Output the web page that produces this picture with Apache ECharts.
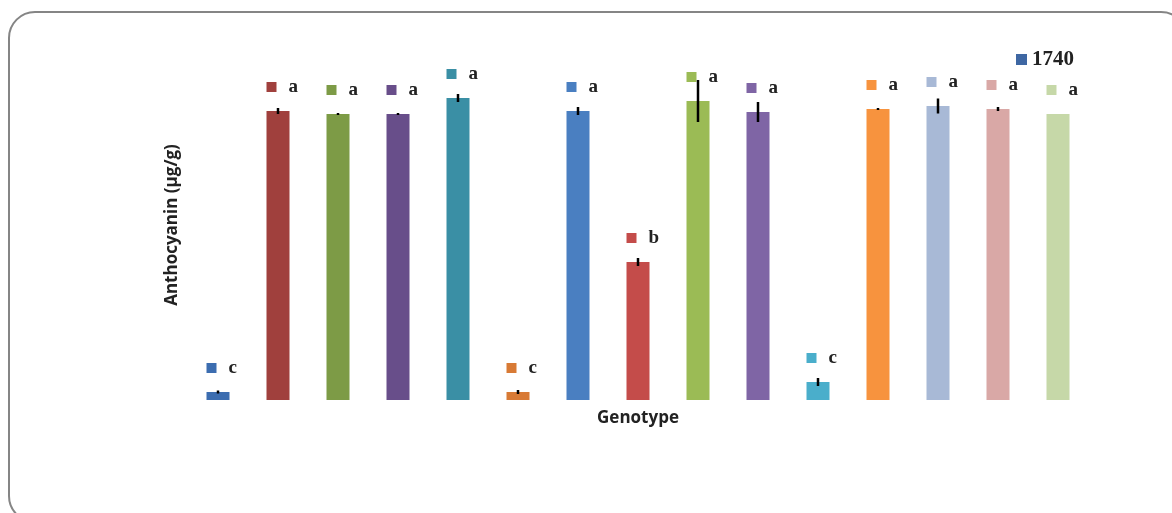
<!DOCTYPE html>
<html>
<head>
<meta charset="utf-8">
<script src="https://cdn.jsdelivr.net/npm/echarts@6/dist/echarts.min.js"></script>
<style>
  html, body { margin: 0; padding: 0; background: #fff; }
  #chart { width: 1172px; height: 513px; }
</style>
</head>
<body>
<div id="chart"></div>
<script>
// genotypes (unnamed on the original axis)
const genotypes = ['G1', 'G2', 'G3', 'G4', 'G5', 'G6', 'G7', 'G8', 'G9', 'G10', 'G11', 'G12', 'G13', 'G14', 'G15'];
// anthocyanin means and error
const means = [0.08, 2.89, 2.86, 2.86, 3.02, 0.08, 2.89, 1.38, 2.99, 2.88, 0.18, 2.91, 2.94, 2.91, 2.86];
const errors = [0.015, 0.03, 0.01, 0.01, 0.04, 0.02, 0.04, 0.04, 0.21, 0.10, 0.04, 0.01, 0.075, 0.02, 0];
// significance letters
const letters = ['c', 'a', 'a', 'a', 'a', 'c', 'a', 'b', 'a', 'a', 'c', 'a', 'a', 'a', 'a'];
const barColors = ['#3c6db0', '#a0403d', '#7d9b46', '#684e8a', '#3a8fa5', '#d87a35', '#4a7fc1', '#c44c4a',
  '#9bbb55', '#7f65a5', '#4aaecb', '#f7933e', '#a8b9d6', '#d9a8a6', '#c6d8a8'];
const seriesName = '1740';

const chart = echarts.init(document.getElementById('chart'));

const barData = means.map((v, i) => ({
  value: v,
  itemStyle: { color: barColors[i] },
  label: {
    show: true,
    position: [0, -24],
    align: 'left',
    verticalAlign: 'middle',
    formatter: '{sq|}{t|' + letters[i] + '}',
    rich: {
      sq: { width: 10, height: 10, backgroundColor: barColors[i] },
      t: {
        padding: [0, 0, 0, 12],
        fontFamily: 'Liberation Serif',
        fontWeight: 'bold',
        fontSize: 19,
        color: '#222'
      }
    }
  }
}));

const errData = means.map((v, i) => [i, v - errors[i], v + errors[i]]);

chart.setOption({
  animation: false,
  graphic: [{
    type: 'rect',
    shape: { x: 9, y: 12, width: 1178, height: 510, r: 26 },
    style: { fill: 'none', stroke: '#858585', lineWidth: 2 },
    z: -10
  }],
  legend: {
    data: [seriesName],
    right: 93,
    top: 44,
    icon: 'rect',
    itemWidth: 11,
    itemHeight: 11,
    itemGap: 4,
    textStyle: { fontFamily: 'Liberation Serif', fontWeight: 'bold', fontSize: 21, color: '#222' }
  },
  grid: { left: 188, right: 84, top: 50, bottom: 113 },
  xAxis: {
    type: 'category',
    data: genotypes,
    name: 'Genotype',
    nameLocation: 'middle',
    nameGap: 10,
    nameTextStyle: { fontFamily: 'Open Sans', fontWeight: 'bold', fontSize: 17, color: '#222' },
    axisLine: { show: false },
    axisTick: { show: false },
    axisLabel: { show: false }
  },
  yAxis: {
    type: 'value',
    min: 0,
    max: 3.5,
    name: 'Anthocyanin (µg/g)',
    nameLocation: 'middle',
    nameGap: 7,
    nameTextStyle: { fontFamily: 'Open Sans', fontWeight: 'bold', fontSize: 17, color: '#222' },
    axisLine: { show: false },
    axisTick: { show: false },
    axisLabel: { show: false },
    splitLine: { show: false }
  },
  series: [
    {
      name: seriesName,
      type: 'bar',
      barWidth: 23,
      itemStyle: { color: '#3e67a3' },
      data: barData
    },
    {
      name: 'error',
      type: 'custom',
      z: 5,
      encode: { x: 0, y: [1, 2] },
      data: errData,
      renderItem: (params, api) => {
        const lo = api.coord([api.value(0), api.value(1)]);
        const hi = api.coord([api.value(0), api.value(2)]);
        return {
          type: 'line',
          shape: { x1: lo[0], y1: lo[1], x2: hi[0], y2: hi[1] },
          style: { stroke: '#000', lineWidth: 2.5 }
        };
      }
    }
  ]
});
</script>
</body>
</html>
